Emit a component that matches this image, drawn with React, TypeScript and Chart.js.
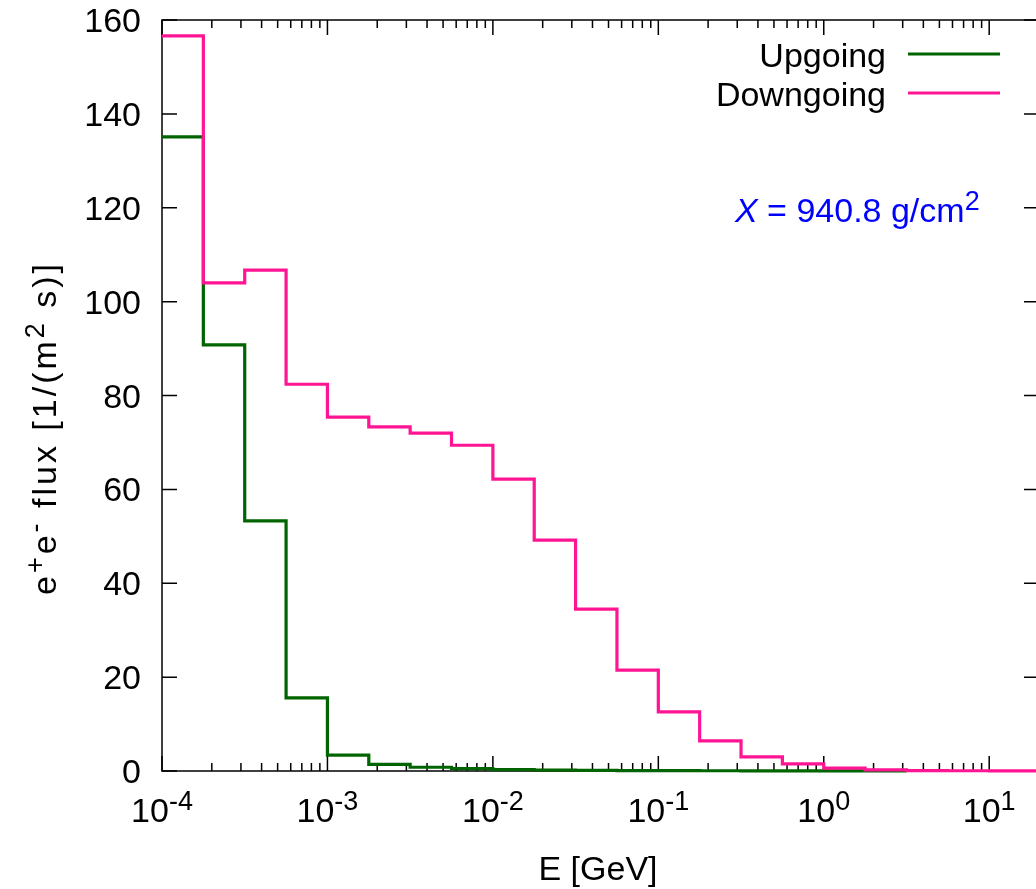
import React, { useEffect, useRef } from "react";
import { Chart, registerables } from "chart.js";
Chart.register(...registerables);

// Bin edges in GeV (4 bins per decade)
const binEdges = [
  1.0e-4, 1.778e-4, 3.162e-4, 5.623e-4,
  1.0e-3, 1.778e-3, 3.162e-3, 5.623e-3,
  1.0e-2, 1.778e-2, 3.162e-2, 5.623e-2,
  1.0e-1, 1.778e-1, 3.162e-1, 5.623e-1,
  1.0, 1.778, 3.162, 5.623,
  10.0, 17.78, 31.62,
];
// e+e- flux per bin [1/(m^2 s)]
const upgoing = [
  135.1, 90.8, 53.3, 15.6, 3.4, 1.4, 0.8, 0.5, 0.3, 0.2, 0.15, 0.1, 0.08, 0.05,
  0.04, 0.03, 0.02, 0.01,
];
const downgoing = [
  156.6, 104.0, 106.7, 82.4, 75.4, 73.3, 72.0, 69.4, 62.2, 49.2, 34.5, 21.5,
  12.6, 6.4, 3.0, 1.5, 0.6, 0.25, 0.1, 0.05, 0.03, 0.02,
];
const yTicks = [0, 20, 40, 60, 80, 100, 120, 140, 160];
const xDecades = [-4, -3, -2, -1, 0, 1];
const seriesNames = ["Upgoing", "Downgoing"];
const seriesColors = ["#006400", "#ff1493"];
const annotation = { sym: "X", text: " = 940.8 g/cm", sup: "2" };

const X_MIN = 1e-4;
const X_MAX = 20;
const FONT = "'Liberation Sans', Arial, sans-serif";
const FS = 34;
const FS_SUP = 27;

function stepPoints(vals: number[]) {
  const pts = vals.map((v, i) => ({ x: binEdges[i], y: v }));
  pts.push({ x: binEdges[vals.length], y: vals[vals.length - 1] });
  return pts;
}

type Seg = [string, boolean, boolean?]; // text, superscript, italic

function segWidth(ctx: CanvasRenderingContext2D, segs: Seg[]) {
  let w = 0;
  for (const [t, sup, it] of segs) {
    ctx.font = `${it ? "italic " : ""}${sup ? FS_SUP : FS}px ${FONT}`;
    w += ctx.measureText(t).width;
  }
  return w;
}

function drawSegs(
  ctx: CanvasRenderingContext2D,
  segs: Seg[],
  x: number,
  y: number,
  align: "left" | "center" | "right"
) {
  const w = segWidth(ctx, segs);
  let cx = align === "left" ? x : align === "center" ? x - w / 2 : x - w;
  ctx.textAlign = "left";
  ctx.textBaseline = "alphabetic";
  for (const [t, sup, it] of segs) {
    ctx.font = `${it ? "italic " : ""}${sup ? FS_SUP : FS}px ${FONT}`;
    ctx.fillText(t, cx, sup ? y - 12 : y);
    cx += ctx.measureText(t).width;
  }
}

const framePlugin = {
  id: "frame",
  beforeDatasetsDraw(chart: any) {
    const { ctx, chartArea } = chart;
    const xs = chart.scales.x;
    const ys = chart.scales.y;
    const { left, right, top, bottom } = chartArea;
    ctx.save();
    ctx.strokeStyle = "#000";
    ctx.lineWidth = 1.5;
    ctx.beginPath();
    ctx.moveTo(left, top);
    ctx.lineTo(right, top);
    ctx.lineTo(right, bottom);
    ctx.lineTo(left, bottom);
    ctx.closePath();
    ctx.stroke();
    // x ticks (major + minor), bottom and top
    ctx.beginPath();
    for (const k of xDecades) {
      for (let m = 1; m <= 9; m++) {
        const v = m * Math.pow(10, k);
        if (v < X_MIN * 0.999 || v > X_MAX) continue;
        const px = xs.getPixelForValue(v);
        const len = m === 1 ? 15 : 8;
        ctx.moveTo(px, bottom);
        ctx.lineTo(px, bottom - len);
        ctx.moveTo(px, top);
        ctx.lineTo(px, top + len);
      }
    }
    for (const t of yTicks) {
      const py = ys.getPixelForValue(t);
      ctx.moveTo(left, py);
      ctx.lineTo(left + 15, py);
      ctx.moveTo(right, py);
      ctx.lineTo(right - 15, py);
    }
    ctx.stroke();
    ctx.restore();
  },
  afterDraw(chart: any) {
    const { ctx } = chart;
    const xs = chart.scales.x;
    const ys = chart.scales.y;
    ctx.save();
    ctx.fillStyle = "#000";
    // y tick labels
    ctx.font = `${FS}px ${FONT}`;
    ctx.textAlign = "right";
    ctx.textBaseline = "alphabetic";
    for (const t of yTicks) {
      ctx.fillText(String(t), 141, ys.getPixelForValue(t) + 12);
    }
    // x tick labels
    for (const k of xDecades) {
      const px = xs.getPixelForValue(Math.pow(10, k));
      drawSegs(ctx, [["10", false], [String(k), true]], px, 822, "center");
    }
    // axis titles
    drawSegs(ctx, [["E [GeV]", false]], 598, 880, "center");
    ctx.save();
    ctx.translate(56, 428);
    ctx.rotate(-Math.PI / 2);
    (ctx as any).letterSpacing = "3px";
    drawSegs(
      ctx,
      [
        ["e", false],
        ["+", true],
        ["e", false],
        ["-", true],
        [" flux [1/(m", false],
        ["2", true],
        [" s)]", false],
      ],
      0,
      0,
      "center"
    );
    (ctx as any).letterSpacing = "0px";
    ctx.restore();
    // legend
    const legY = [54, 93];
    seriesNames.forEach((name, i) => {
      ctx.fillStyle = "#000";
      drawSegs(ctx, [[name, false]], 886, legY[i] + 13, "right");
      ctx.strokeStyle = seriesColors[i];
      ctx.lineWidth = 3;
      ctx.beginPath();
      ctx.moveTo(908, legY[i]);
      ctx.lineTo(1000, legY[i]);
      ctx.stroke();
    });
    // annotation
    ctx.fillStyle = "#0000ff";
    drawSegs(
      ctx,
      [
        [annotation.sym, false, true],
        [annotation.text, false],
        [annotation.sup, true],
      ],
      735,
      222,
      "left"
    );
    ctx.restore();
  },
};

export default function App() {
  const ref = useRef<HTMLCanvasElement | null>(null);
  useEffect(() => {
    if (!ref.current) return;
    const common = {
      borderWidth: 3.2,
      stepped: "before",
      pointRadius: 0,
      fill: false,
      borderJoinStyle: "miter",
      clip: { left: 0, top: 10, right: 0, bottom: 10 },
    };
    const chart = new Chart(ref.current, {
      type: "line",
      data: {
        datasets: [
          {
            ...common,
            label: seriesNames[0],
            data: stepPoints(upgoing),
            borderColor: seriesColors[0],
            order: 1,
          },
          {
            ...common,
            label: seriesNames[1],
            data: stepPoints(downgoing),
            borderColor: seriesColors[1],
            order: 0,
          },
        ],
      },
      options: {
        animation: false,
        responsive: false,
        layout: { padding: { top: 20, right: 11, left: 0, bottom: 0 } },
        plugins: { legend: { display: false }, tooltip: { enabled: false } },
        scales: {
          x: {
            type: "logarithmic",
            min: X_MIN,
            max: X_MAX,
            grid: { display: false },
            border: { display: false },
            ticks: { display: false },
            afterFit: (s: any) => {
              s.height = 118;
            },
          },
          y: {
            type: "linear",
            min: 0,
            max: 160,
            grid: { display: false },
            border: { display: false },
            ticks: { display: false },
            afterFit: (s: any) => {
              s.width = 162;
            },
          },
        },
      },
      plugins: [framePlugin],
    } as any);
    return () => chart.destroy();
  }, []);
  return (
    <div
      style={{
        position: "fixed",
        left: 0,
        top: 0,
        width: 1036,
        height: 889,
        overflow: "hidden",
        background: "#fff",
      }}
    >
      <canvas
        ref={ref}
        width={1050}
        height={889}
        style={{ width: 1050, height: 889, display: "block" }}
      />
    </div>
  );
}
